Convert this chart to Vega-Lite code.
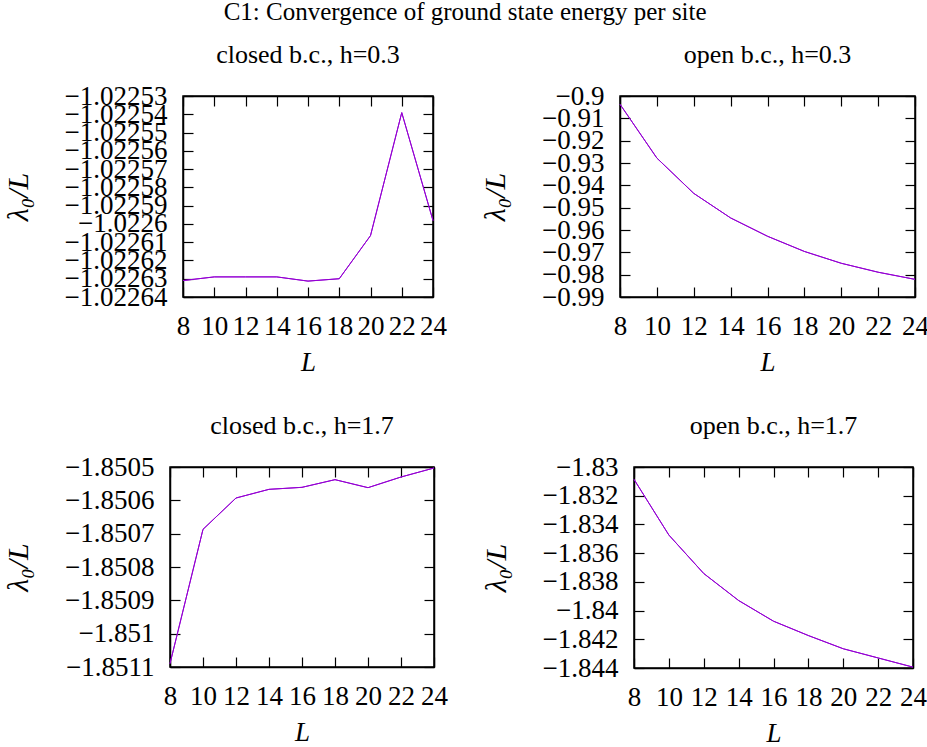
{
  "$schema": "https://vega.github.io/schema/vega-lite/v6.json",
  "padding": {"left": 1, "top": 0, "right": 0, "bottom": 0},
  "title": {"text": "C1: Convergence of ground state energy per site", "fontSize": 25, "offset": 16, "anchor": "middle"},
  "datasets": {
    "c03": [
      {"L": 8, "E": -1.022631}, {"L": 10, "E": -1.022629}, {"L": 12, "E": -1.022629},
      {"L": 14, "E": -1.022629}, {"L": 16, "E": -1.0226313}, {"L": 18, "E": -1.02263},
      {"L": 20, "E": -1.0226064}, {"L": 22, "E": -1.0225391}, {"L": 24, "E": -1.0225982}
    ],
    "o03": [
      {"L": 8, "E": -0.9037}, {"L": 10, "E": -0.9278}, {"L": 12, "E": -0.9436},
      {"L": 14, "E": -0.9546}, {"L": 16, "E": -0.9628}, {"L": 18, "E": -0.9696},
      {"L": 20, "E": -0.9749}, {"L": 22, "E": -0.9789}, {"L": 24, "E": -0.9821}
    ],
    "c17": [
      {"L": 8, "E": -1.85109}, {"L": 10, "E": -1.850687}, {"L": 12, "E": -1.850593},
      {"L": 14, "E": -1.850567}, {"L": 16, "E": -1.850561}, {"L": 18, "E": -1.850538},
      {"L": 20, "E": -1.850562}, {"L": 22, "E": -1.85053}, {"L": 24, "E": -1.850503}
    ],
    "o17": [
      {"L": 8, "E": -1.83086}, {"L": 10, "E": -1.83474}, {"L": 12, "E": -1.83742},
      {"L": 14, "E": -1.8393}, {"L": 16, "E": -1.84074}, {"L": 18, "E": -1.84174},
      {"L": 20, "E": -1.84266}, {"L": 22, "E": -1.8433}, {"L": 24, "E": -1.84394}
    ],
    "blank": [{"k": 0}]
  },
  "spacing": 36,
  "vconcat": [
    {
      "spacing": 0,
      "hconcat": [
        {"width": 1, "height": 1, "data": {"name": "blank"}, "mark": {"type": "point", "opacity": 0, "size": 0}, "encoding": {}, "view": {"stroke": null}},
        {
          "spacing": 31,
          "hconcat": [
            {
              "title": "closed b.c., h=0.3",
              "width": 250, "height": 201,
              "data": {"name": "c03"},
              "layer": [
                {"mark": "line", "encoding": {
                  "x": {"field": "L", "type": "quantitative", "scale": {"domain": [8, 24], "nice": false, "zero": false},
                        "axis": {"orient": "bottom", "values": [8,10,12,14,16,18,20,22,24], "title": "L"}},
                  "y": {"field": "E", "type": "quantitative", "scale": {"domain": [-1.02264, -1.02253], "nice": false, "zero": false},
                        "axis": {"orient": "left", "format": "~g", "title": "λ₀/L", "values": [-1.02253,-1.02254,-1.02255,-1.02256,-1.02257,-1.02258,-1.02259,-1.0226,-1.02261,-1.02262,-1.02263,-1.02264]}}}},
                {"mark": "line", "encoding": {
                  "x": {"field": "L", "type": "quantitative", "scale": {"domain": [8, 24], "nice": false, "zero": false},
                        "axis": {"orient": "top", "labels": false, "title": null, "values": [8,10,12,14,16,18,20,22,24]}},
                  "y": {"field": "E", "type": "quantitative", "scale": {"domain": [-1.02264, -1.02253], "nice": false, "zero": false},
                        "axis": {"orient": "right", "labels": false, "title": null, "values": [-1.02253,-1.02254,-1.02255,-1.02256,-1.02257,-1.02258,-1.02259,-1.0226,-1.02261,-1.02262,-1.02263,-1.02264]}}}}
              ],
              "resolve": {"axis": {"x": "independent", "y": "independent"}}
            },
            {
              "title": "open b.c., h=0.3",
              "width": 295, "height": 201,
              "data": {"name": "o03"},
              "layer": [
                {"mark": "line", "encoding": {
                  "x": {"field": "L", "type": "quantitative", "scale": {"domain": [8, 24], "nice": false, "zero": false},
                        "axis": {"orient": "bottom", "values": [8,10,12,14,16,18,20,22,24], "title": "L"}},
                  "y": {"field": "E", "type": "quantitative", "scale": {"domain": [-0.99, -0.9], "nice": false, "zero": false},
                        "axis": {"orient": "left", "format": "~g", "title": "λ₀/L", "values": [-0.9,-0.91,-0.92,-0.93,-0.94,-0.95,-0.96,-0.97,-0.98,-0.99]}}}},
                {"mark": "line", "encoding": {
                  "x": {"field": "L", "type": "quantitative", "scale": {"domain": [8, 24], "nice": false, "zero": false},
                        "axis": {"orient": "top", "labels": false, "title": null, "values": [8,10,12,14,16,18,20,22,24]}},
                  "y": {"field": "E", "type": "quantitative", "scale": {"domain": [-0.99, -0.9], "nice": false, "zero": false},
                        "axis": {"orient": "right", "labels": false, "title": null, "values": [-0.9,-0.91,-0.92,-0.93,-0.94,-0.95,-0.96,-0.97,-0.98,-0.99]}}}}
              ],
              "resolve": {"axis": {"x": "independent", "y": "independent"}}
            }
          ]
        }
      ]
    },
    {
      "spacing": 0,
      "hconcat": [
        {"width": 1, "height": 1, "data": {"name": "blank"}, "mark": {"type": "point", "opacity": 0, "size": 0}, "encoding": {}, "view": {"stroke": null}},
        {
          "spacing": 31,
          "hconcat": [
            {
              "title": "closed b.c., h=1.7",
              "width": 264, "height": 200,
              "data": {"name": "c17"},
              "layer": [
                {"mark": "line", "encoding": {
                  "x": {"field": "L", "type": "quantitative", "scale": {"domain": [8, 24], "nice": false, "zero": false},
                        "axis": {"orient": "bottom", "values": [8,10,12,14,16,18,20,22,24], "title": "L"}},
                  "y": {"field": "E", "type": "quantitative", "scale": {"domain": [-1.8511, -1.8505], "nice": false, "zero": false},
                        "axis": {"orient": "left", "format": "~g", "title": "λ₀/L", "values": [-1.8505,-1.8506,-1.8507,-1.8508,-1.8509,-1.851,-1.8511]}}}},
                {"mark": "line", "encoding": {
                  "x": {"field": "L", "type": "quantitative", "scale": {"domain": [8, 24], "nice": false, "zero": false},
                        "axis": {"orient": "top", "labels": false, "title": null, "values": [8,10,12,14,16,18,20,22,24]}},
                  "y": {"field": "E", "type": "quantitative", "scale": {"domain": [-1.8511, -1.8505], "nice": false, "zero": false},
                        "axis": {"orient": "right", "labels": false, "title": null, "values": [-1.8505,-1.8506,-1.8507,-1.8508,-1.8509,-1.851,-1.8511]}}}}
              ],
              "resolve": {"axis": {"x": "independent", "y": "independent"}}
            },
            {
              "title": "open b.c., h=1.7",
              "width": 279, "height": 201,
              "data": {"name": "o17"},
              "layer": [
                {"mark": "line", "encoding": {
                  "x": {"field": "L", "type": "quantitative", "scale": {"domain": [8, 24], "nice": false, "zero": false},
                        "axis": {"orient": "bottom", "values": [8,10,12,14,16,18,20,22,24], "title": "L"}},
                  "y": {"field": "E", "type": "quantitative", "scale": {"domain": [-1.844, -1.83], "nice": false, "zero": false},
                        "axis": {"orient": "left", "format": "~g", "title": "λ₀/L", "values": [-1.83,-1.832,-1.834,-1.836,-1.838,-1.84,-1.842,-1.844]}}}},
                {"mark": "line", "encoding": {
                  "x": {"field": "L", "type": "quantitative", "scale": {"domain": [8, 24], "nice": false, "zero": false},
                        "axis": {"orient": "top", "labels": false, "title": null, "values": [8,10,12,14,16,18,20,22,24]}},
                  "y": {"field": "E", "type": "quantitative", "scale": {"domain": [-1.844, -1.83], "nice": false, "zero": false},
                        "axis": {"orient": "right", "labels": false, "title": null, "values": [-1.83,-1.832,-1.834,-1.836,-1.838,-1.84,-1.842,-1.844]}}}}
              ],
              "resolve": {"axis": {"x": "independent", "y": "independent"}}
            }
          ]
        }
      ]
    }
  ],
  "config": {
    "font": "Liberation Serif",
    "view": {"stroke": "black", "strokeWidth": 1.5},
    "title": {"font": "Liberation Serif", "fontSize": 26, "fontWeight": "normal", "color": "black", "offset": 14},
    "line": {"color": "#9400d3", "strokeWidth": 1},
    "axis": {
      "grid": false,
      "labelFont": "Liberation Serif", "labelFontSize": 27, "labelColor": "black",
      "labelOverlap": false, "labelFlush": false, "labelPadding": 26,
      "tickColor": "black", "tickSize": -10, "tickWidth": 1.2,
      "domainColor": "black", "domainWidth": 1.5,
      "titleFont": "Liberation Serif", "titleFontWeight": "normal",
      "titleFontStyle": "italic", "titleColor": "black"
    },
    "axisX": {"titleFontSize": 27, "titlePadding": 10},
    "axisY": {"titleFontSize": 30, "titlePadding": 31}
  }
}
